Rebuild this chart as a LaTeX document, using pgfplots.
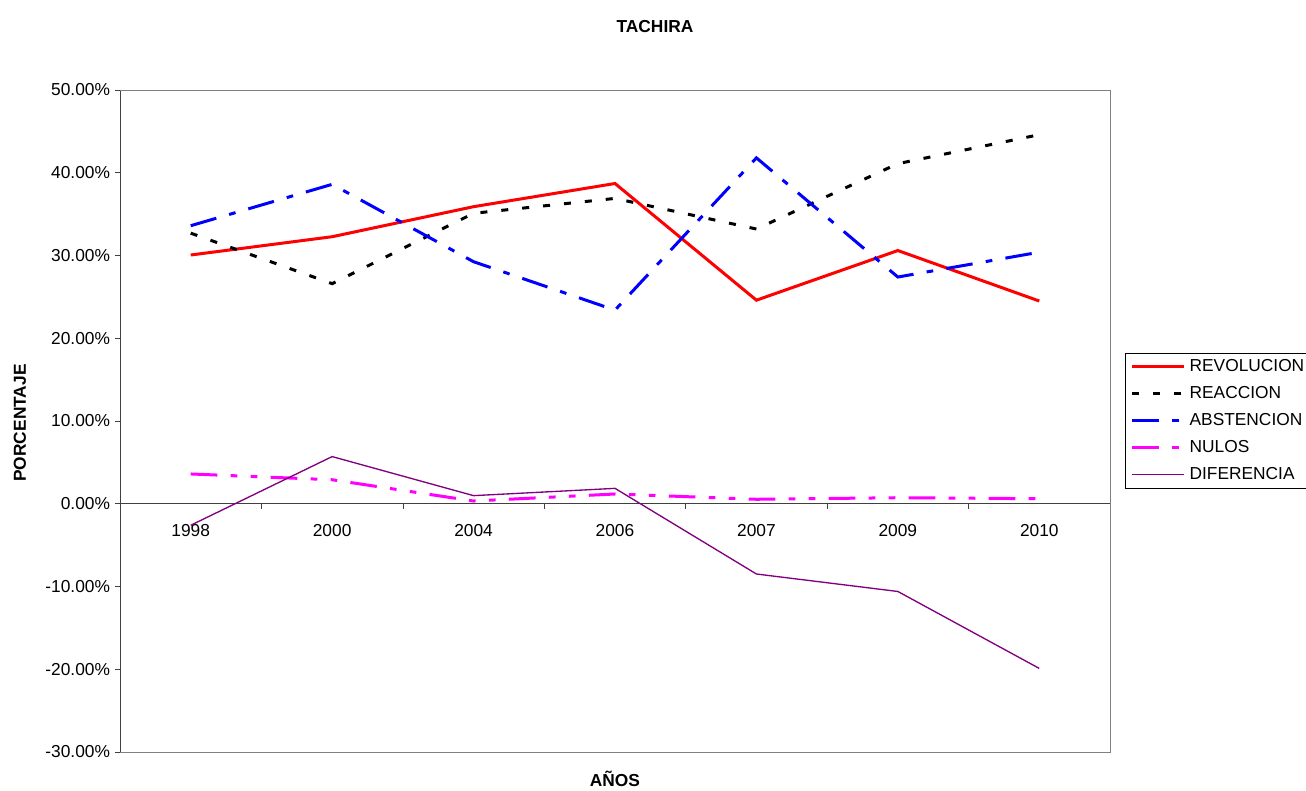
\documentclass[border=0pt]{standalone}
\usepackage{fontspec}
\setmainfont{Liberation Sans}
\usepackage{pgfplots}
\usepackage{pgfplotstable}
\pgfplotsset{compat=1.18}

\definecolor{morado}{RGB}{128,0,128}
\definecolor{rosa}{RGB}{255,0,255}
\definecolor{rojo}{RGB}{255,0,0}
\definecolor{azul}{RGB}{0,0,255}

% x: posicion de la categoria (1998 ... 2010)
\pgfplotstableread{
x   rev    reac   abst   nulos  dif
0   30.06  32.70  33.60  3.60   -2.60
1   32.27  26.60  38.60  2.90    5.70
2   35.90  35.10  29.25  0.33    0.98
3   38.70  36.90  23.40  1.18    1.86
4   24.60  33.20  41.80  0.54   -8.49
5   30.60  41.10  27.40  0.73  -10.60
6   24.50  44.60  30.40  0.61  -19.90
}\datos

\newcommand{\txt}{\fontsize{13}{15.6}\selectfont}

\begin{document}
\begin{tikzpicture}[x=0.75pt,y=0.75pt]
\useasboundingbox (0,0) rectangle (1306,790);

\begin{axis}[
  at={(90pt,28.5pt)}, anchor=south west,
  scale only axis,
  width=742.5pt, height=496.5pt,
  xmin=-0.5, xmax=6.5,
  ymin=-30, ymax=50,
  axis x line=middle,
  axis y line=left,
  axis line style={-, black!75},
  hide obscured x ticks=false,
  hide obscured y ticks=false,
  xtick={-0.5,0.5,...,6.5},
  x tick label as interval,
  xticklabels={1998,2000,2004,2006,2007,2009,2010},
  ytick={-30,-20,...,50},
  yticklabels={-30.00\%,-20.00\%,-10.00\%,0.00\%,10.00\%,20.00\%,30.00\%,40.00\%,50.00\%},
  tick align=outside,
  major tick length=4pt,
  tick style={black!75, thin},
  ticklabel style={font=\txt},
  xticklabel style={anchor=north, yshift=-8pt},
  yticklabel style={anchor=east, xshift=0pt},
  legend style={
    at={(rel axis cs:1.0152,0.6027)}, anchor=north west,
    draw=black, fill=white, font=\txt,
    inner xsep=4pt, inner ysep=4pt, row sep=8.25pt,
    nodes={inner xsep=3pt, inner ysep=0pt, text height=9.5pt, text depth=2.5pt},
  },
  legend cell align=left,
  legend image code/.code={\draw[#1] (0pt,0pt) -- (39pt,0pt);},
  clip=false,
]
\draw[gray, thin] (rel axis cs:0,1) -- (rel axis cs:1,1) -- (rel axis cs:1,0) -- (rel axis cs:0,0);

\addplot[rojo, line width=2.25pt] table[x=x, y=rev] {\datos};
\addlegendentry{REVOLUCION}
\addplot[black, line width=2.25pt, dash pattern=on 5.25pt off 10.5pt] table[x=x, y=reac] {\datos};
\addlegendentry{REACCION}
\addplot[azul, line width=2.25pt, dash pattern=on 20pt off 10pt on 5pt off 10pt] table[x=x, y=abst] {\datos};
\addlegendentry{ABSTENCION}
\addplot[rosa, line width=2.25pt, dash pattern=on 20pt off 10pt on 5pt off 10pt on 5pt off 10pt] table[x=x, y=nulos] {\datos};
\addlegendentry{NULOS}
\addplot[morado, line width=1pt] table[x=x, y=dif] {\datos};
\addlegendentry{DIFERENCIA}
\end{axis}

\node[font=\txt\bfseries] at (655,763) {TACHIRA};
\node[font=\txt\bfseries, rotate=90] at (20,367) {PORCENTAJE};
\node[font=\txt\bfseries] at (615,11) {AÑOS};
\end{tikzpicture}
\end{document}
